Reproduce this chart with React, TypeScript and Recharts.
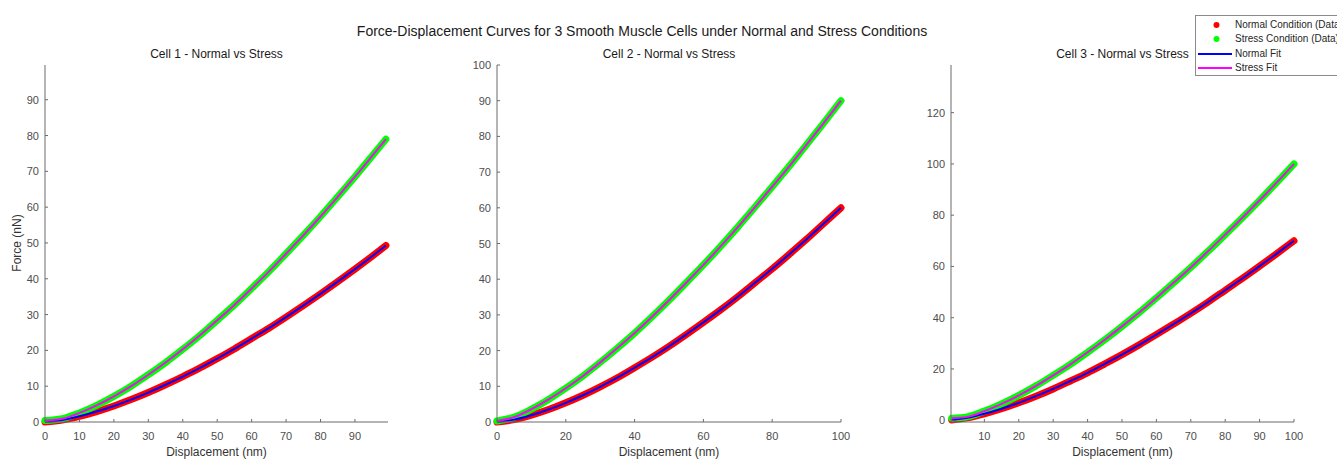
import { ComposedChart, Line, XAxis, YAxis } from 'recharts'

const FONT = '"Liberation Sans", Arial, Helvetica, sans-serif'
const AXIS = '#6b6b6b'
const TICK_TEXT = '#4d4d4d'
const RED = '#ff0000'
const GREEN = '#00ff00'
const BLUE = '#0000ff'
const MAGENTA = '#ff00ff'

// displacement (nm) and force (nN)
const cell1X = [0, 5, 10, 15, 20, 25, 30, 35, 40, 45, 50, 55, 60, 65, 70, 75, 80, 85, 90, 95, 99]
const cell1Normal = [0, 0.56, 1.58, 2.91, 4.48, 6.26, 8.22, 10.4, 12.7, 15.1, 17.7, 20.4, 23.3, 26.2, 29.3, 32.5, 35.8, 39.2, 42.7, 46.3, 49.3]
const cell1Stress = [0.4, 0.9, 2.54, 4.66, 7.17, 10.0, 13.2, 16.6, 20.3, 24.2, 28.4, 32.7, 37.3, 42.0, 47.0, 52.1, 57.4, 62.9, 68.5, 74.3, 79.0]

const cell2X = [0, 5, 10, 15, 20, 25, 30, 35, 40, 45, 50, 55, 60, 65, 70, 75, 80, 85, 90, 95, 100]
const cell2Normal = [0, 0.67, 1.9, 3.49, 5.37, 7.5, 9.86, 12.4, 15.2, 18.1, 21.2, 24.5, 27.9, 31.4, 35.1, 39.0, 42.9, 47.0, 51.2, 55.6, 60.0]
const cell2Stress = [0.3, 1.36, 3.58, 6.32, 9.46, 12.9, 16.7, 20.7, 24.9, 29.4, 34.1, 39.0, 44.0, 49.2, 54.6, 60.2, 65.9, 71.7, 77.7, 83.8, 90.0]

const cell3X = [0.5, 5, 10, 15, 20, 25, 30, 35, 40, 45, 50, 55, 60, 65, 70, 75, 80, 85, 90, 95, 100]
const cell3Normal = [0.1, 0.91, 2.49, 4.47, 6.78, 9.38, 12.2, 15.3, 18.5, 22.0, 25.6, 29.4, 33.4, 37.5, 41.7, 46.1, 50.7, 55.3, 60.1, 65.0, 70.0]
const cell3Stress = [0.8, 1.3, 3.55, 6.39, 9.69, 13.4, 17.5, 21.8, 26.5, 31.4, 36.6, 42.0, 47.7, 53.6, 59.6, 65.9, 72.4, 79.0, 85.8, 92.8, 100.0]

const cell1XTicks = [0, 10, 20, 30, 40, 50, 60, 70, 80, 90]
const cell1YTicks = [0, 10, 20, 30, 40, 50, 60, 70, 80, 90]
const cell2XTicks = [0, 20, 40, 60, 80, 100]
const cell2YTicks = [0, 10, 20, 30, 40, 50, 60, 70, 80, 90, 100]
const cell3XTicks = [10, 20, 30, 40, 50, 60, 70, 80, 90, 100]
const cell3YTicks = [0, 20, 40, 60, 80, 100, 120]

const legendItems = [
  { label: 'Normal Condition (Data)', color: RED, kind: 'dot' },
  { label: 'Stress Condition (Data)', color: GREEN, kind: 'dot' },
  { label: 'Normal Fit', color: BLUE, kind: 'line' },
  { label: 'Stress Fit', color: MAGENTA, kind: 'line' },
]

function buildRows(xs: number[], normal: number[], stress: number[]) {
  return xs.map((x, i) => ({
    x,
    normal: normal[i],
    stress: stress[i],
    normalFit: normal[i],
    stressFit: stress[i],
  }))
}

function XTick(props: any) {
  const { x, y, payload } = props
  return (
    <g>
      <line x1={x} x2={x} y1={y} y2={y - 3} stroke={AXIS} />
      <text x={x} y={y + 14} textAnchor='middle' dominantBaseline='central' fontSize={11} fontFamily={FONT} fill={TICK_TEXT}>
        {payload.value}
      </text>
    </g>
  )
}

function YTick(props: any) {
  const { x, y, payload } = props
  return (
    <g>
      <line x1={x} x2={x + 3} y1={y} y2={y} stroke={AXIS} />
      <text x={x - 6} y={y} textAnchor='end' dominantBaseline='central' fontSize={11} fontFamily={FONT} fill={TICK_TEXT}>
        {payload.value}
      </text>
    </g>
  )
}

type CellProps = {
  left: number
  top: number
  plotW: number
  plotH: number
  xs: number[]
  normal: number[]
  stress: number[]
  xDomain: [number, number]
  yDomain: [number, number]
  xTicks: number[]
  yTicks: number[]
}

function CellChart(p: CellProps) {
  const data = buildRows(p.xs, p.normal, p.stress)
  return (
    <div style={{ position: 'absolute', left: p.left - 40, top: p.top - 10 }}>
      <ComposedChart
        width={p.plotW + 50}
        height={p.plotH + 50}
        data={data}
        margin={{ top: 10, right: 10, left: 0, bottom: 0 }}
      >
        <XAxis
          dataKey='x'
          type='number'
          domain={p.xDomain}
          ticks={p.xTicks}
          height={40}
          tickSize={0}
          tickMargin={0}
          tickLine={false}
          axisLine={{ stroke: AXIS }}
          tick={<XTick />}
          interval={0}
        />
        <YAxis
          type='number'
          domain={p.yDomain}
          ticks={p.yTicks}
          width={40}
          tickSize={0}
          tickMargin={0}
          tickLine={false}
          axisLine={{ stroke: AXIS }}
          tick={<YTick />}
          interval={0}
        />
        <Line
          dataKey='normal'
          type='monotone'
          stroke={RED}
          strokeWidth={7}
          strokeLinecap='round'
          dot={false}
          isAnimationActive={false}
        />
        <Line
          dataKey='stress'
          type='monotone'
          stroke={GREEN}
          strokeWidth={7}
          strokeLinecap='round'
          dot={false}
          isAnimationActive={false}
        />
        <Line dataKey='normalFit' type='monotone' stroke={BLUE} strokeWidth={2} dot={false} isAnimationActive={false} />
        <Line dataKey='stressFit' type='monotone' stroke={MAGENTA} strokeWidth={2} dot={false} isAnimationActive={false} />
      </ComposedChart>
    </div>
  )
}

const PLOT_TOP = 64.5
const PLOT_H = 357

const cells = [
  { left: 45, plotW: 343, title: 'Cell 1 - Normal vs Stress' },
  { left: 497, plotW: 344, title: 'Cell 2 - Normal vs Stress' },
  { left: 951, plotW: 343, title: 'Cell 3 - Normal vs Stress' },
]

export default function App() {
  return (
    <div
      style={{
        position: 'absolute',
        left: 0,
        top: 0,
        width: 1337,
        height: 460,
        background: '#fff',
        overflow: 'hidden',
        fontFamily: FONT,
      }}
    >
      <svg width={1337} height={460} style={{ position: 'absolute', left: 0, top: 0 }}>
        <text x={642} y={31} textAnchor='middle' dominantBaseline='central' fontSize={14} fill='#1a1a1a' fontFamily={FONT}>
          Force-Displacement Curves for 3 Smooth Muscle Cells under Normal and Stress Conditions
        </text>
        {cells.map((c) => (
          <g key={c.title}>
            <text x={c.left + c.plotW / 2} y={53.5} textAnchor='middle' dominantBaseline='central' fontSize={12} fill='#1a1a1a' fontFamily={FONT}>
              {c.title}
            </text>
            <text x={c.left + c.plotW / 2} y={451.5} textAnchor='middle' dominantBaseline='central' fontSize={12} fill='#333' fontFamily={FONT}>
              Displacement (nm)
            </text>
          </g>
        ))}
        <text x={17} y={243} textAnchor='middle' dominantBaseline='central' fontSize={12} fill='#333' fontFamily={FONT} transform='rotate(-90 17 243)'>
          Force (nN)
        </text>
      </svg>

      <CellChart
        left={cells[0].left}
        top={PLOT_TOP}
        plotW={cells[0].plotW}
        plotH={PLOT_H}
        xs={cell1X}
        normal={cell1Normal}
        stress={cell1Stress}
        xDomain={[0, 99.6]}
        yDomain={[0, 99.7]}
        xTicks={cell1XTicks}
        yTicks={cell1YTicks}
      />
      <CellChart
        left={cells[1].left}
        top={PLOT_TOP}
        plotW={cells[1].plotW}
        plotH={PLOT_H}
        xs={cell2X}
        normal={cell2Normal}
        stress={cell2Stress}
        xDomain={[0, 100]}
        yDomain={[0, 100]}
        xTicks={cell2XTicks}
        yTicks={cell2YTicks}
      />
      <CellChart
        left={cells[2].left}
        top={PLOT_TOP}
        plotW={cells[2].plotW}
        plotH={PLOT_H}
        xs={cell3X}
        normal={cell3Normal}
        stress={cell3Stress}
        xDomain={[0.3, 100]}
        yDomain={[-0.7, 138.6]}
        xTicks={cell3XTicks}
        yTicks={cell3YTicks}
      />

      <div
        style={{
          position: 'absolute',
          left: 1195,
          top: 15,
          width: 150,
          height: 59,
          border: '1px solid #8a8a8a',
          background: '#fff',
        }}
      >
        {legendItems.map((it, i) => (
          <div key={it.label} style={{ position: 'absolute', left: 0, top: 2 + i * 14.4, height: 14, width: 150 }}>
            <svg width={38} height={14} style={{ position: 'absolute', left: 0, top: 0 }}>
              {it.kind === 'dot' ? (
                <circle cx={20.5} cy={7} r={3} fill={it.color} />
              ) : (
                <line x1={2} x2={36} y1={7} y2={7} stroke={it.color} strokeWidth={2} />
              )}
            </svg>
            <span
              style={{
                position: 'absolute',
                left: 39,
                top: 0,
                lineHeight: '14px',
                fontSize: 10,
                color: '#262626',
                whiteSpace: 'nowrap',
              }}
            >
              {it.label}
            </span>
          </div>
        ))}
      </div>
    </div>
  )
}
